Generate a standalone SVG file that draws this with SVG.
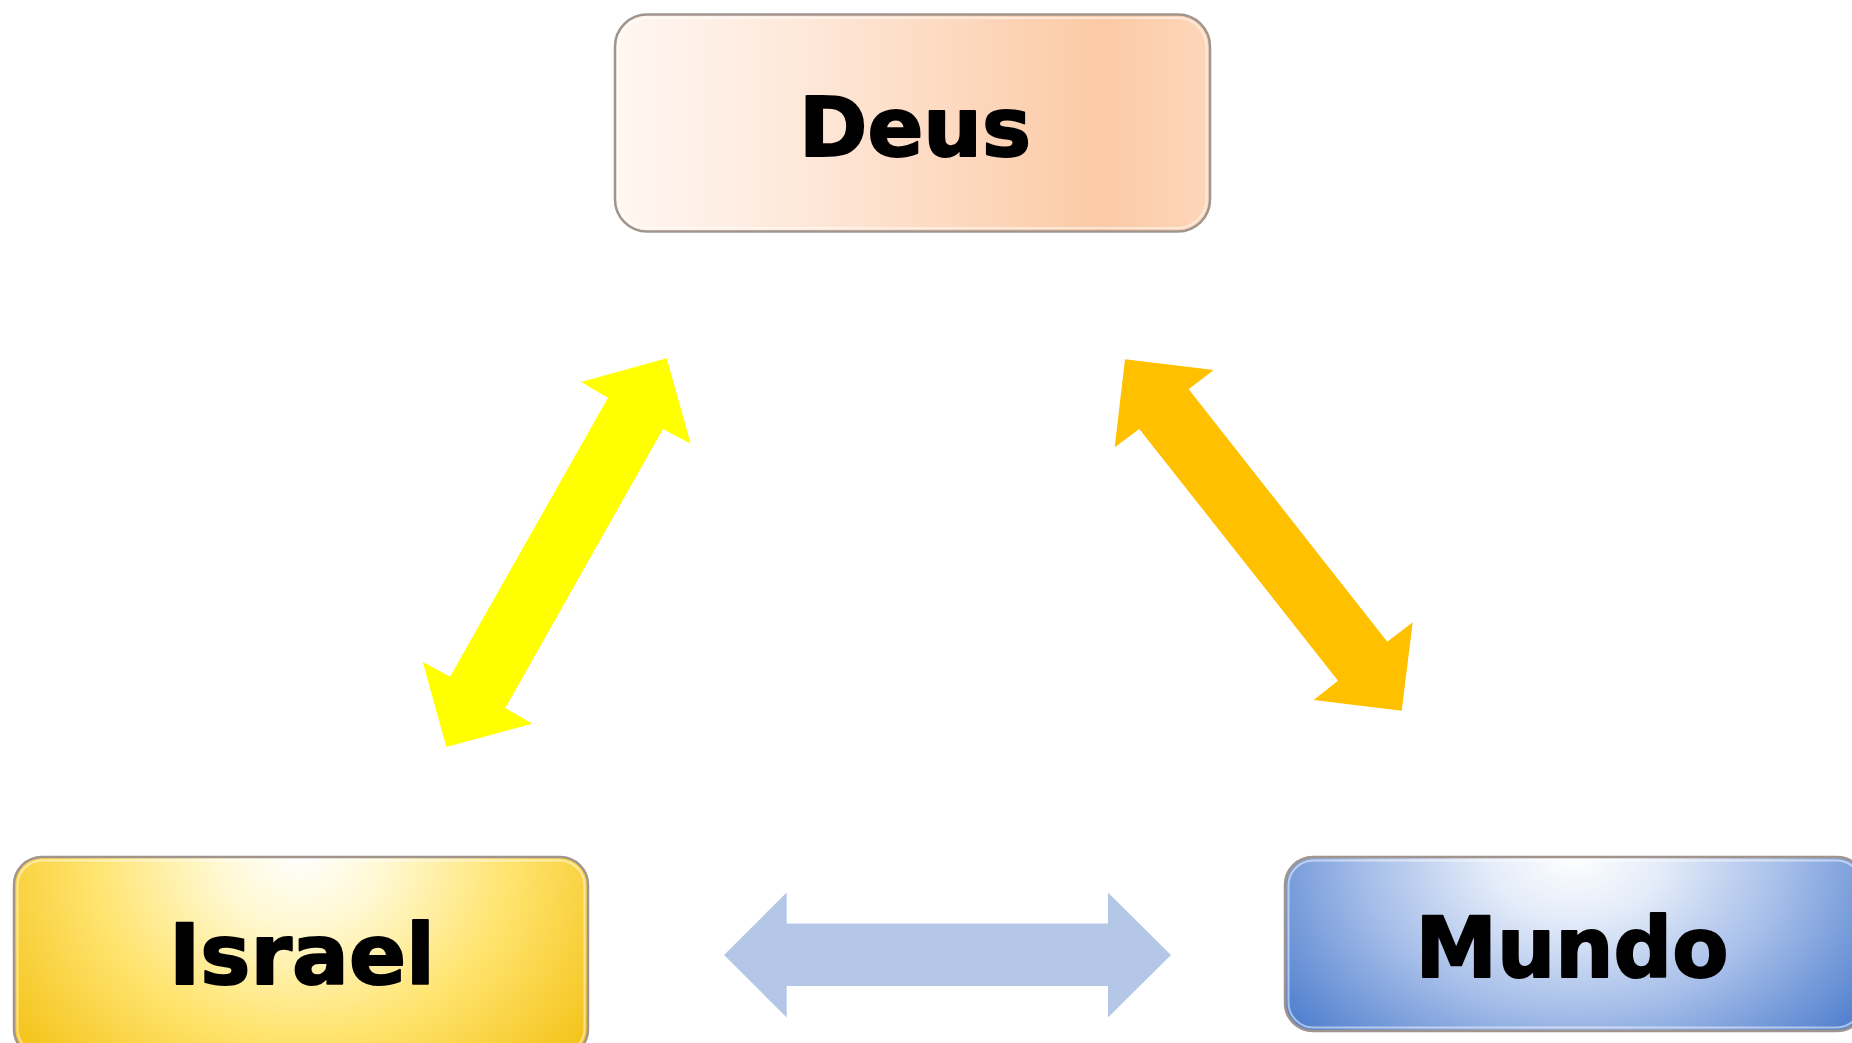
<svg xmlns="http://www.w3.org/2000/svg" width="1852" height="1043" viewBox="0 0 1852 1043">
  <defs>
    <linearGradient id="gDeus" x1="0" y1="0" x2="1" y2="0">
      <stop offset="0" stop-color="#FFF7F2"/>
      <stop offset="0.3" stop-color="#FEE9DB"/>
      <stop offset="0.82" stop-color="#FCCAA6"/>
      <stop offset="1" stop-color="#FDD6BA"/>
    </linearGradient>
    <radialGradient id="gIsrael" cx="0.5" cy="0.05" r="0.6" fx="0.5" fy="0.02" gradientTransform="translate(0.5 0.05) scale(1 2.4) translate(-0.5 -0.05)">
      <stop offset="0" stop-color="#FFFFFF"/>
      <stop offset="0.25" stop-color="#FFF8D0"/>
      <stop offset="0.6" stop-color="#FFE470"/>
      <stop offset="1" stop-color="#F5C51E"/>
    </radialGradient>
    <radialGradient id="gMundo" cx="0.5" cy="0.05" r="0.6" fx="0.5" fy="0.02" gradientTransform="translate(0.5 0.05) scale(1 2.4) translate(-0.5 -0.05)">
      <stop offset="0" stop-color="#FFFFFF"/>
      <stop offset="0.25" stop-color="#E4ECF9"/>
      <stop offset="0.6" stop-color="#A6BEE9"/>
      <stop offset="1" stop-color="#5482CF"/>
    </radialGradient>
    <style>
      .box { stroke: #A0948C; stroke-width: 2.5; }
      .bevel { fill: none; stroke: #FFFFFF; stroke-opacity: 0.5; stroke-width: 2; }
      .label { font-family: "DejaVu Sans", "Liberation Sans", Arial, sans-serif; font-weight: bold; fill: #000000; stroke: #000000; stroke-width: 2; stroke-linejoin: round; text-anchor: middle; }
    </style>
  </defs>
  <rect width="1852" height="1043" fill="#FFFFFF"/>

  <g id="connectors">
    <polygon id="arrow-israel-deus" fill="#FFFF00" points="666.7,358.3 690.7,443.7 663,429 505.3,708 532.3,723.7 446.3,747 422.7,661.7 450,676.7 608,397.7 581,382"/>
    <polygon id="arrow-deus-mundo" fill="#FFC000" points="1125,359.3 1213.7,370 1188.7,389.3 1387.3,641.7 1412.7,622.3 1401.7,710.7 1313.7,700 1338,680.7 1139.3,429 1114.7,447.3"/>
    <polygon id="arrow-israel-mundo" fill="#B4C7E7" points="724,955 786.7,892.5 786.7,923.5 1108,923.5 1108,892.5 1171,955 1108,1017.5 1108,986 786.7,986 786.7,1017.5"/>
  </g>

  <g id="node-deus">
    <rect class="box" x="615" y="14.5" width="595" height="217" rx="32" fill="url(#gDeus)"/>
    <rect class="bevel" x="618.5" y="18" width="588" height="210" rx="29"/>
    <text class="label" x="915" y="155.5" font-size="82" textLength="232" lengthAdjust="spacingAndGlyphs">Deus</text>
  </g>

  <g id="node-israel">
    <rect class="box" x="14" y="857" width="574" height="200" rx="28" fill="url(#gIsrael)"/>
    <rect class="bevel" x="17.5" y="860.5" width="567" height="193" rx="25"/>
    <text class="label" x="302" y="983.5" font-size="84" textLength="266" lengthAdjust="spacingAndGlyphs">Israel</text>
  </g>

  <g id="node-mundo">
    <rect class="box" x="1285" y="857" width="580" height="174" rx="28" fill="url(#gMundo)"/>
    <rect class="bevel" x="1288.5" y="860.5" width="573" height="167" rx="25"/>
    <text class="label" x="1572" y="977" font-size="84" textLength="313" lengthAdjust="spacingAndGlyphs">Mundo</text>
  </g>
</svg>
